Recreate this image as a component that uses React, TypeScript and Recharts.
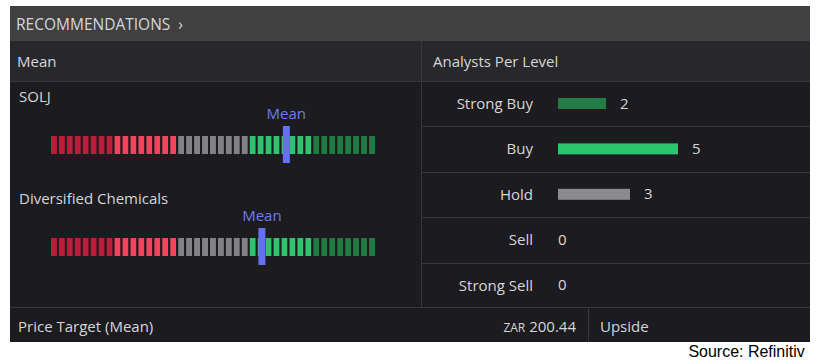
import React from 'react';
import {
  BarChart,
  Bar,
  XAxis,
  YAxis,
  ReferenceLine,
  LabelList,
} from 'recharts';

const companies = ['SOLJ', 'Diversified Chemicals'];
// mean rating on a 1 (strong buy) .. 5 (strong sell) scale
const meanScores = [2.1, 2.4];

const bandColors = ['#b81f38', '#f0455c', '#828185', '#2fc36d', '#1f7a43'];
const bandCounts = [8, 8, 9, 8, 8];

const levels = ['Strong Buy', 'Buy', 'Hold', 'Sell', 'Strong Sell'];
const analystCounts = [2, 5, 3, 0, 0];
const levelColors = ['#237b46', '#2ec46e', '#8b8a8e', '#e0435a', '#b81f38'];

const FONT = '"Open Sans", Lato, sans-serif';
const FS = 15;
const BODY = '#1c1b1f';
const LINE = '#38373b';
const TEXT = '#d6d6d8';

const segmentColors: string[] = bandColors.flatMap((c, i) =>
  Array.from({ length: bandCounts[i] }, () => c)
);

function MeanStrip({ name, mean, top }: { name: string; mean: number; top: number }) {
  const row: Record<string, string | number> = { name };
  segmentColors.forEach((_, i) => {
    row[`s${i}`] = 1;
  });
  // strip runs strong sell (left) -> strong buy (right)
  const markerX = ((5 - mean) / 4) * segmentColors.length;
  return (
    <div style={{ position: 'absolute', left: 43, top }}>
      <BarChart
        width={340}
        height={63}
        data={[row]}
        layout="vertical"
        margin={{ top: 24, right: 7, bottom: 2, left: 7 }}
      >
        <XAxis type="number" domain={[0, segmentColors.length]} hide />
        <YAxis type="category" dataKey="name" hide width={0} />
        {segmentColors.map((c, i) => (
          <Bar
            key={i}
            dataKey={`s${i}`}
            stackId="a"
            fill={c}
            stroke={BODY}
            strokeWidth={2}
            barSize={20}
            isAnimationActive={false}
          />
        ))}
        <ReferenceLine
          x={markerX}
          stroke="#6571f2"
          strokeWidth={7}
          label={{
            value: 'Mean',
            position: 'top',
            offset: 7,
            fill: '#6f7bf2',
            fontSize: FS,
            fontFamily: FONT,
          }}
        />
      </BarChart>
    </div>
  );
}

const renderCount = (props: any) => {
  const { x, y, width, height, value } = props;
  return (
    <text
      x={x + width + (value > 0 ? 14 : 0)}
      y={y + height / 2}
      dy={5}
      fill={TEXT}
      fontSize={FS}
      fontFamily={FONT}
    >
      {value}
    </text>
  );
};

export default function App() {
  const levelData = levels.map((l, i) => ({ level: l, count: analystCounts[i], color: levelColors[i] }));
  const rowH = 227 / levels.length;

  return (
    <div
      style={{
        position: 'absolute',
        left: 0,
        top: 0,
        width: 820,
        height: 362,
        background: '#fff',
        fontFamily: FONT,
        color: TEXT,
        fontSize: FS,
      }}
    >
      {/* panel */}
      <div style={{ position: 'absolute', left: 10, top: 6, width: 800, height: 336, background: BODY }} />
      <div
        style={{
          position: 'absolute',
          left: 10,
          top: 6,
          width: 800,
          height: 35,
          background: '#404040',
          display: 'flex',
          alignItems: 'center',
        }}
      >
        <span style={{ marginLeft: 6, fontSize: 15.5, whiteSpace: 'pre' }}>
          {'RECOMMENDATIONS  \u203a'}
        </span>
      </div>
      <div
        style={{
          position: 'absolute',
          left: 10,
          top: 41,
          width: 800,
          height: 40,
          background: '#28272b',
          borderBottom: `1px solid ${LINE}`,
        }}
      />
      <div style={{ position: 'absolute', left: 17, top: 51 }}>Mean</div>
      <div style={{ position: 'absolute', left: 433, top: 51 }}>Analysts Per Level</div>
      <div style={{ position: 'absolute', left: 421, top: 41, width: 1, height: 267, background: LINE }} />

      {/* row separators on the right */}
      {levels.slice(1).map((l, i) => (
        <div
          key={l}
          style={{
            position: 'absolute',
            left: 422,
            top: 81 + rowH * (i + 1),
            width: 388,
            height: 1,
            background: LINE,
          }}
        />
      ))}

      {/* left: mean strips */}
      <div style={{ position: 'absolute', left: 19, top: 86 }}>{companies[0]}</div>
      <MeanStrip name={companies[0]} mean={meanScores[0]} top={102} />
      <div style={{ position: 'absolute', left: 19, top: 188 }}>{companies[1]}</div>
      <MeanStrip name={companies[1]} mean={meanScores[1]} top={204} />

      {/* right: analysts per level */}
      <div style={{ position: 'absolute', left: 422, top: 81 }}>
        <BarChart
          width={388}
          height={227}
          data={levelData}
          layout="vertical"
          margin={{ top: 0, right: 12, bottom: 0, left: 0 }}
        >
          <XAxis type="number" domain={[0, 10]} hide />
          <YAxis
            type="category"
            dataKey="level"
            width={136}
            axisLine={false}
            tickLine={false}
            tickSize={0}
            tickMargin={25}
            tick={{ fill: TEXT, fontSize: FS, fontFamily: FONT }}
          />
          <Bar
            dataKey="count"
            barSize={11}
            isAnimationActive={false}
            shape={(p: any) => (
              <rect x={p.x} y={p.y} width={Math.max(p.width, 0)} height={p.height} fill={p.payload.color} />
            )}
          >
            <LabelList dataKey="count" content={renderCount} />
          </Bar>
        </BarChart>
      </div>

      {/* footer */}
      <div style={{ position: 'absolute', left: 10, top: 307, width: 800, height: 1, background: LINE }} />
      <div style={{ position: 'absolute', left: 588, top: 308, width: 1, height: 34, background: LINE }} />
      <div style={{ position: 'absolute', left: 18, top: 316 }}>Price Target (Mean)</div>
      <div style={{ position: 'absolute', right: 820 - 576, top: 316 }}>
        <span style={{ fontSize: 12 }}>ZAR</span> 200.44
      </div>
      <div style={{ position: 'absolute', left: 600, top: 316 }}>Upside</div>

      <div
        style={{
          position: 'absolute',
          right: 15,
          top: 342,
          color: '#000',
          fontSize: 17,
          fontFamily: '"Liberation Sans", Arial, sans-serif',
          transform: 'scaleX(0.94)',
          transformOrigin: 'right center',
          whiteSpace: 'nowrap',
        }}
      >
        Source: Refinitiv
      </div>
    </div>
  );
}
